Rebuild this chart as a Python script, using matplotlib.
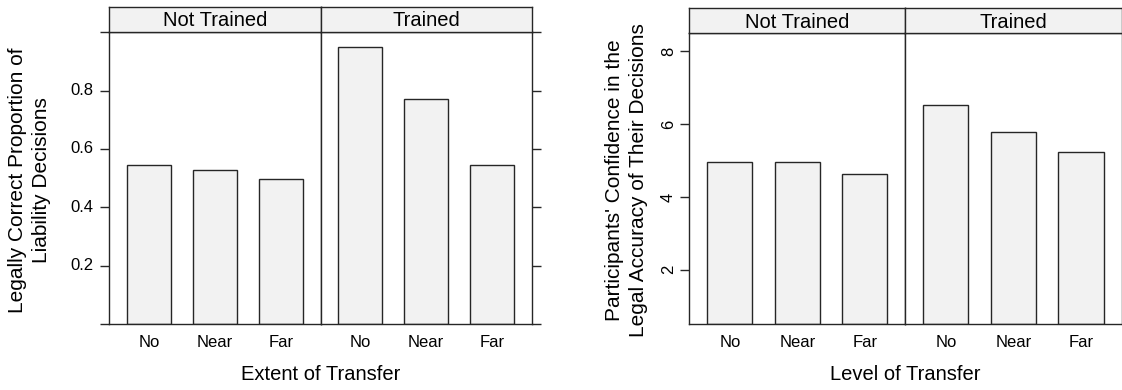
import numpy as np
import matplotlib
matplotlib.use("Agg")
import matplotlib.pyplot as plt

plt.rcParams['font.family'] = ['Liberation Sans', 'DejaVu Sans']

groups = ["Not Trained", "Trained"]
levels = ["No", "Near", "Far"]

# proportion of legally correct decisions
correct_nt = [0.546, 0.528, 0.496]
correct_tr = [0.951, 0.770, 0.546]

# confidence ratings
conf_nt = [4.96, 4.96, 4.64]
conf_tr = [6.53, 5.80, 5.25]

W, H = 1122, 390
EDGE = '#262626'
FILL = '#f2f2f2'

fig = plt.figure(figsize=(W / 100, H / 100), dpi=100)


def px_axes(x0, x1, y_top, y_bot):
    return fig.add_axes([x0 / W, 1 - y_bot / H, (x1 - x0) / W, (y_bot - y_top) / H])


def make_chart(x0, x1, strip_top, top, bot, series, ylim, yticks, ylabels,
               rot, right_ticks):
    xmid = (x0 + x1) / 2
    edges = [(x0, xmid), (xmid, x1)]
    pos = np.arange(1, len(levels) + 1)
    for i, (a, b) in enumerate(edges):
        ax = px_axes(a, b, top, bot)
        vals = np.array(series[i])
        ax.bar(pos, vals - ylim[0], bottom=ylim[0], width=0.667, color=FILL,
               edgecolor=EDGE, linewidth=1.0)
        ax.set_xlim(0.4, 3.6)
        ax.set_ylim(*ylim)
        ax.set_xticks(pos)
        ax.set_xticklabels(levels, fontsize=12)
        ax.tick_params(axis='x', length=0, pad=8)
        for s in ax.spines.values():
            s.set_color(EDGE)
            s.set_linewidth(1.0)
        ax.set_yticks(yticks)
        if i == 0:
            ax.set_yticklabels(ylabels, fontsize=12, rotation=rot,
                               va='center')
            ax.tick_params(axis='y', left=True, right=False, length=6.5,
                           pad=5 if rot == 0 else 3, color=EDGE, width=1.0)
        else:
            ax.tick_params(axis='y', left=False, right=right_ticks,
                           labelleft=False, length=6.5, color=EDGE, width=1.0)
        # strip
        st = px_axes(a, b, strip_top, top)
        st.set_facecolor(FILL)
        st.set_xticks([])
        st.set_yticks([])
        for s in st.spines.values():
            s.set_color(EDGE)
            s.set_linewidth(1.0)
        st.text(0.5, 0.45, groups[i], ha='center', va='center', fontsize=14.5,
                transform=st.transAxes)
    return xmid


# left chart
make_chart(109.3, 531.7, 6.7, 32.3, 324, [correct_nt, correct_tr],
           (0, 1.0), [0, 0.2, 0.4, 0.6, 0.8, 1.0],
           ['', '0.2', '0.4', '0.6', '0.8', ''], 0, True)
fig.text(29.5 / W, 1 - 180 / H,
         "Legally Correct Proportion of\nLiability Decisions",
         rotation=90, ha='center', va='center', fontsize=15, linespacing=1.3)
fig.text(320.5 / W, 1 - 375 / H, "Extent of Transfer",
         ha='center', va='center', fontsize=14.5)

# right chart
make_chart(689.3, 1121.5, 8.3, 33.3, 324.3, [conf_nt, conf_tr],
           (0.5, 8.5), [2, 4, 6, 8], ['2', '4', '6', '8'], 90, False)
fig.text(626.5 / W, 1 - 180 / H,
         "Participants' Confidence in the\nLegal Accuracy of Their Decisions",
         rotation=90, ha='center', va='center', fontsize=15, linespacing=1.3)
fig.text(905.5 / W, 1 - 375 / H, "Level of Transfer",
         ha='center', va='center', fontsize=14.5)

fig.savefig("out.png", dpi=100)
